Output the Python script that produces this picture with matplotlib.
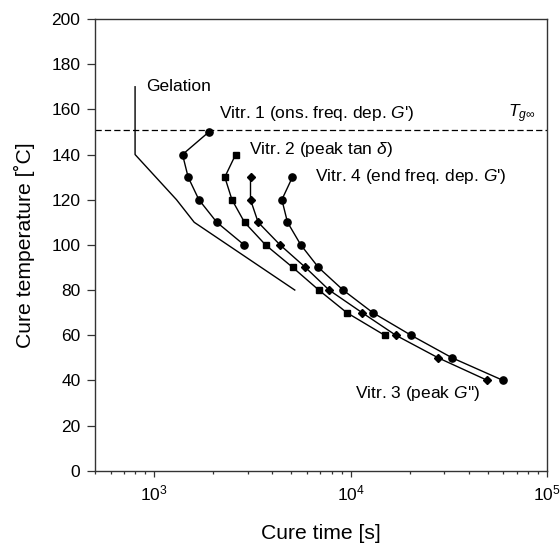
import numpy as np
import matplotlib
matplotlib.use("Agg")
import matplotlib.pyplot as plt
from matplotlib.ticker import LogLocator, FixedLocator

plt.rcParams['font.family'] = ['Liberation Sans', 'DejaVu Sans']
plt.rcParams['mathtext.fontset'] = 'custom'
plt.rcParams['mathtext.rm'] = 'Liberation Sans'
plt.rcParams['mathtext.it'] = 'Liberation Sans:italic'
plt.rcParams['mathtext.sf'] = 'Liberation Sans'

# Gelation line
gel_time = [800, 800, 1300, 1600, 5200]
gel_temp = [170, 140, 120, 110, 80]

# Vitr. 1 (onset freq. dep. G')
v1_time = [1900, 1395, 1490, 1690, 2085, 2870]
v1_temp = [150, 140, 130, 120, 110, 100]

# Vitr. 2 (peak tan delta)
v2_time = [2600, 2290, 2490, 2885, 3690, 5080, 6890, 9560, 14900]
v2_temp = [140, 130, 120, 110, 100, 90, 80, 70, 60]

# Vitr. 3 (peak G'')
v3_time = [3095, 3095, 3385, 4375, 5895, 7775, 11440, 16980, 27900, 49700]
v3_temp = [130, 120, 110, 100, 90, 80, 70, 60, 50, 40]

# Vitr. 4 (end freq. dep. G')
v4_time = [5060, 4470, 4775, 5580, 6865, 9160, 12970, 20300, 32850, 59700]
v4_temp = [130, 120, 110, 100, 90, 80, 70, 60, 50, 40]

tg_inf = 151

fig = plt.figure(figsize=(5.6, 5.45), dpi=100)
ax = fig.add_axes([0.1696, 0.1363, 0.8072, 0.8288])

ax.plot(gel_time, gel_temp, color='black', lw=1.0)
ax.axhline(tg_inf, color='black', lw=0.9, ls=(0, (5, 2.5)))

ax.plot(v1_time, v1_temp, color='black', lw=1.0, marker='o', ms=5.2)
ax.plot(v2_time, v2_temp, color='black', lw=1.0, marker='s', ms=4.6)
ax.plot(v3_time, v3_temp, color='black', lw=1.0, marker='D', ms=3.9)
ax.plot(v4_time, v4_temp, color='black', lw=1.0, marker='o', ms=5.2)

fs = 12.5
ax.text(915, 170, 'Gelation', fontsize=fs, va='center')
ax.text(2130, 158, "Vitr. 1 (ons. freq. dep. $\\mathit{G}$')", fontsize=fs, va='center')
ax.text(3045, 142.4, "Vitr. 2 (peak tan $\\delta$)", fontsize=fs, va='center')
ax.text(6570, 130.2, "Vitr. 4 (end freq. dep. $\\mathit{G}$')", fontsize=fs, va='center')
ax.text(10500, 34.3, "Vitr. 3 (peak $\\mathit{G}$'')", fontsize=fs, va='center')
ax.text(87000, 158, "$T_{g\\infty}$", fontsize=fs, va='center', ha='right')

ax.set_xscale('log')
ax.set_xlim(500, 1e5)
ax.set_ylim(0, 200)
ax.set_yticks(np.arange(0, 201, 20))
ax.xaxis.set_major_locator(FixedLocator([1e3, 1e4, 1e5]))
ax.xaxis.set_minor_locator(LogLocator(base=10, subs=np.arange(2, 10)))

ax.tick_params(axis='both', which='both', direction='out', top=False, right=False,
               labelsize=fs, width=0.9, color='#333333')
ax.tick_params(axis='x', which='major', length=4.3, pad=5)
ax.tick_params(axis='x', which='minor', length=2.4)
ax.tick_params(axis='y', which='major', length=5.5, pad=5)

for sp in ax.spines.values():
    sp.set_linewidth(1.0)
    sp.set_color('#333333')

ax.set_xlabel('Cure time [s]', fontsize=15.2, labelpad=15)
ax.set_ylabel('Cure temperature [˚C]', fontsize=15.2, labelpad=12)

fig.savefig('out.png', dpi=100)
